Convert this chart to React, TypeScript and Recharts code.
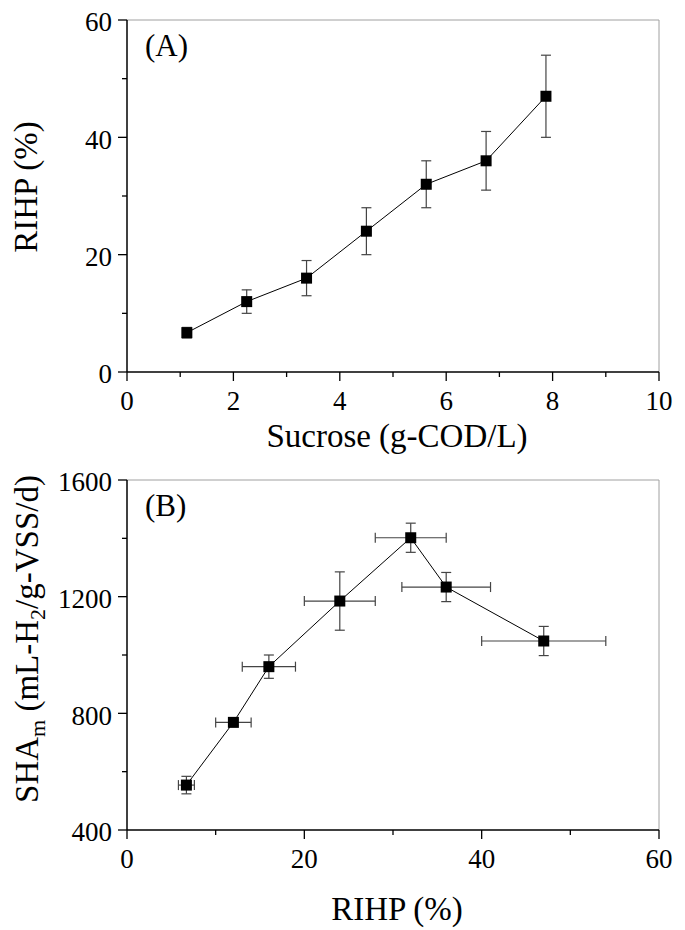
import React from 'react';
import { ScatterChart, Scatter, XAxis, YAxis, ErrorBar, ReferenceLine, Label } from 'recharts';

// values
const sucrose = [1.125, 2.25, 3.375, 4.5, 5.625, 6.75, 7.875];
const rihp = [6.7, 12, 16, 24, 32, 36, 47];
const rihpErr = [0.9, 2, 3, 4, 4, 5, 7];
const shaM = [554, 769, 960, 1185, 1402, 1233, 1048];
const shaErr = [30, 10, 40, 100, 50, 50, 50];

const ticksAx = [0, 1, 2, 3, 4, 5, 6, 7, 8, 9, 10];
const ticksAy = [0, 10, 20, 30, 40, 50, 60];
const ticksBx = [0, 10, 20, 30, 40, 50, 60];
const ticksBy = [400, 600, 800, 1000, 1200, 1400, 1600];

const dataA = sucrose.map((x, i) => ({ x, y: rihp[i], err: rihpErr[i] }));
const dataB = rihp.map((x, i) => ({ x, y: shaM[i], xErr: rihpErr[i], yErr: shaErr[i] }));

const FONT = "'Liberation Serif', 'Times New Roman', serif";
const TS = 9;
const TICK_FONT = 27;
const TITLE_FONT = 33;

const makeXTick = (isMajor: (v: number) => boolean) => (props: any) => {
  const { x, y, payload } = props;
  const axisY = y - TS;
  const major = isMajor(payload.value);
  return (
    <g>
      <line x1={x} x2={x} y1={axisY} y2={axisY + (major ? 9 : 5)} stroke="#000" strokeWidth={1.3} />
      {major && (
        <text x={x} y={axisY + 38} textAnchor="middle" fill="#000" style={{ fontFamily: FONT, fontSize: TICK_FONT }}>
          {payload.value}
        </text>
      )}
    </g>
  );
};

const makeYTick = (isMajor: (v: number) => boolean) => (props: any) => {
  const { x, y, payload } = props;
  const axisX = x + TS;
  const major = isMajor(payload.value);
  return (
    <g>
      <line x1={axisX - (major ? 9 : 5)} x2={axisX} y1={y} y2={y} stroke="#000" strokeWidth={1.3} />
      {major && (
        <text x={axisX - 15} y={y} dy="0.42em" textAnchor="end" fill="#000" style={{ fontFamily: FONT, fontSize: TICK_FONT }}>
          {payload.value}
        </text>
      )}
    </g>
  );
};

const Square = (props: any) => {
  const { cx, cy } = props;
  return <rect x={cx - 5.5} y={cy - 5.5} width={11} height={11} fill="#000" />;
};

const xTitle = (text: string, dy: number) => (props: any) => {
  const { x, y, width } = props.viewBox;
  return (
    <text x={x + width / 2 + 4} y={y + dy} textAnchor="middle" fill="#000" style={{ fontFamily: FONT, fontSize: TITLE_FONT }}>
      {text}
    </text>
  );
};

const yTitleA = (props: any) => {
  const { x, y, height } = props.viewBox;
  return (
    <text
      transform={`translate(${x + 29},${y + height / 2 - 9}) rotate(-90)`}
      textAnchor="middle"
      fill="#000"
      style={{ fontFamily: FONT, fontSize: TITLE_FONT }}
    >
      RIHP (%)
    </text>
  );
};

const yTitleB = (props: any) => {
  const { x, y, height } = props.viewBox;
  return (
    <text
      transform={`translate(${x + 30},${y + height / 2 - 16}) rotate(-90)`}
      textAnchor="middle"
      fill="#000"
      style={{ fontFamily: FONT, fontSize: TITLE_FONT }}
    >
      SHA
      <tspan fontSize={22} dy={7}>m</tspan>
      <tspan dy={-7}> (mL-H</tspan>
      <tspan fontSize={22} dy={7}>2</tspan>
      <tspan dy={-7}>/g-VSS/d)</tspan>
    </text>
  );
};

const App = () => {
  return (
    <div style={{ width: 677 }}>
      <div style={{ position: 'relative', width: 677, height: 450 }}>
        <ScatterChart width={677} height={450} margin={{ top: 12, right: 26, bottom: 0, left: 0 }}>
          <XAxis
            type="number"
            dataKey="x"
            domain={[0, 10]}
            ticks={ticksAx}
            interval={0}
            height={86}
            tickSize={TS}
            tickMargin={0}
            tickLine={false}
            tick={makeXTick((v) => v % 2 === 0)}
            axisLine={{ stroke: '#000', strokeWidth: 1.5 }}
          >
            <Label content={xTitle('Sucrose (g-COD/L)', 75)} />
          </XAxis>
          <YAxis
            type="number"
            dataKey="y"
            domain={[0, 60]}
            ticks={ticksAy}
            interval={0}
            width={119}
            tickSize={TS}
            tickMargin={0}
            tickLine={false}
            tick={makeYTick((v) => v % 20 === 0)}
            axisLine={{ stroke: '#000', strokeWidth: 1.5 }}
          >
            <Label content={yTitleA} />
          </YAxis>
          <ReferenceLine y={60} stroke="#a0a0a0" strokeWidth={1} />
          <ReferenceLine x={10} stroke="#a0a0a0" strokeWidth={1} />
          <Scatter
            data={dataA}
            shape={Square}
            line={{ stroke: '#000', strokeWidth: 1 }}
            isAnimationActive={false}
          >
            <ErrorBar dataKey="err" direction="y" width={5} stroke="#444" strokeWidth={1.2} isAnimationActive={false} />
          </Scatter>
        </ScatterChart>
        <svg width={677} height={450} style={{ position: 'absolute', left: 0, top: 0, pointerEvents: 'none' }}>
          <text x={137} y={48} fill="#000" style={{ fontFamily: FONT, fontSize: 31 }}>(A)</text>
        </svg>
      </div>
      <div style={{ position: 'relative', width: 677, height: 472 }}>
        <ScatterChart width={677} height={472} margin={{ top: 22, right: 26, bottom: 0, left: 0 }}>
          <XAxis
            type="number"
            dataKey="x"
            domain={[0, 60]}
            ticks={ticksBx}
            interval={0}
            height={100}
            tickSize={TS}
            tickMargin={0}
            tickLine={false}
            tick={makeXTick((v) => v % 20 === 0)}
            axisLine={{ stroke: '#000', strokeWidth: 1.5 }}
          >
            <Label content={xTitle('RIHP (%)', 90)} />
          </XAxis>
          <YAxis
            type="number"
            dataKey="y"
            domain={[400, 1600]}
            ticks={ticksBy}
            interval={0}
            width={119}
            tickSize={TS}
            tickMargin={0}
            tickLine={false}
            tick={makeYTick((v) => v % 400 === 0)}
            axisLine={{ stroke: '#000', strokeWidth: 1.5 }}
          >
            <Label content={yTitleB} />
          </YAxis>
          <ReferenceLine y={1600} stroke="#a0a0a0" strokeWidth={1} />
          <ReferenceLine x={60} stroke="#a0a0a0" strokeWidth={1} />
          <Scatter
            data={dataB}
            shape={Square}
            line={{ stroke: '#000', strokeWidth: 1 }}
            isAnimationActive={false}
          >
            <ErrorBar dataKey="yErr" direction="y" width={5} stroke="#444" strokeWidth={1.2} isAnimationActive={false} />
            <ErrorBar dataKey="xErr" direction="x" width={5} stroke="#444" strokeWidth={1.2} isAnimationActive={false} />
          </Scatter>
        </ScatterChart>
        <svg width={677} height={472} style={{ position: 'absolute', left: 0, top: 0, pointerEvents: 'none' }}>
          <text x={137} y={58} fill="#000" style={{ fontFamily: FONT, fontSize: 31 }}>(B)</text>
        </svg>
      </div>
    </div>
  );
};

export default App;
